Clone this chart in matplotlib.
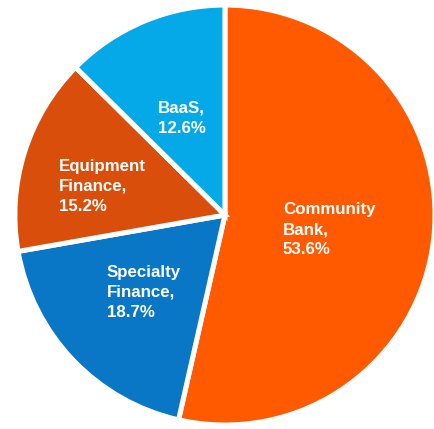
import matplotlib.pyplot as plt

segments = ["Community\nBank", "Specialty\nFinance", "Equipment\nFinance", "BaaS"]
shares = [53.6, 18.7, 15.2, 12.6]
colors = ["#FF5A00", "#0A76C6", "#D84E0A", "#06A9E8"]
# left edge / vertical centre of each label block, in pie units
label_pos = [(0.276, -0.071), (-0.562, -0.367), (-0.79, 0.138), (-0.319, 0.462)]

plt.rcParams["font.family"] = ["Liberation Sans", "DejaVu Sans"]

fig = plt.figure(figsize=(4.35, 4.29), dpi=100)
ax = fig.add_axes([0, 0, 1, 1])
ax.pie(shares, colors=colors, startangle=90, counterclock=False,
       wedgeprops=dict(edgecolor="white", linewidth=3.6))

for name, val, (x, y) in zip(segments, shares, label_pos):
    ax.text(x, y, f"{name},\n{val:.1f}%", color="white", fontsize=12.2,
            fontweight="bold", ha="left", va="center", linespacing=1.42)

ax.set_aspect("auto")
ax.set_xlim(-1.071, 1.0)
ax.set_ylim(-1.019, 1.024)
ax.axis("off")

fig.savefig("out.png", dpi=100, facecolor="white")
